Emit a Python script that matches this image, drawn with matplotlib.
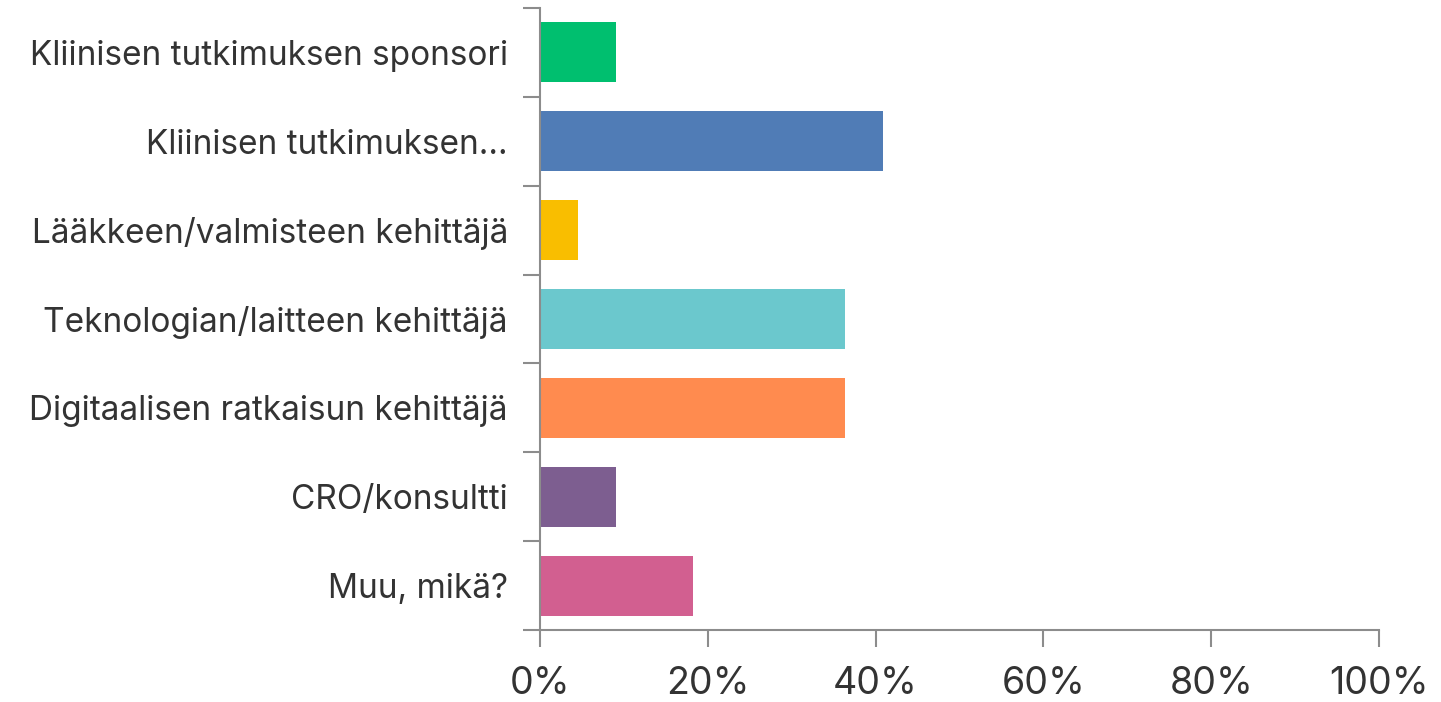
import numpy as np
import matplotlib
matplotlib.use("Agg")
import matplotlib.pyplot as plt
from matplotlib.ticker import FixedLocator, PercentFormatter

categories = [
    "Kliinisen tutkimuksen sponsori",
    "Kliinisen tutkimuksen…",
    "Lääkkeen/valmisteen kehittäjä",
    "Teknologian/laitteen kehittäjä",
    "Digitaalisen ratkaisun kehittäjä",
    "CRO/konsultti",
    "Muu, mikä?",
]
shares = [9.1, 40.9, 4.5, 36.4, 36.4, 9.1, 18.2]
colors = ["#00BF6F", "#507CB6", "#F9BE00", "#6BC8CD", "#FF8B4F", "#7D5E90", "#D25F90"]
x_ticks = [0, 20, 40, 60, 80, 100]

plt.rcParams['font.family'] = ['Inter', 'DejaVu Sans']
axis_col = "#8c8c8c"
text_col = "#333333"

fig = plt.figure(figsize=(14.41, 7.02), dpi=100)
ax = fig.add_axes([0.3747, 0.1026, 0.5823, 0.886])

y = np.arange(len(categories))
ax.barh(y, shares, height=0.675, color=colors)

ax.set_xlim(0, 100)
ax.set_ylim(len(categories) - 0.5, -0.5)

for side in ("top", "right"):
    ax.spines[side].set_visible(False)
for side in ("left", "bottom"):
    ax.spines[side].set_color(axis_col)
    ax.spines[side].set_linewidth(1.5)

ax.set_yticks(y)
ax.set_yticklabels(categories)
ax.yaxis.set_minor_locator(FixedLocator(np.arange(-0.5, len(categories), 1.0)))
ax.tick_params(axis="y", which="major", length=0, pad=23, labelsize=24, labelcolor=text_col)
ax.tick_params(axis="y", which="minor", length=12, width=1.5, color=axis_col)

ax.set_xticks(x_ticks)
ax.xaxis.set_major_formatter(PercentFormatter(decimals=0))
ax.tick_params(axis="x", which="major", length=12, width=1.5, color=axis_col,
               pad=14, labelsize=27, labelcolor=text_col)

fig.savefig("out.png", dpi=100)
